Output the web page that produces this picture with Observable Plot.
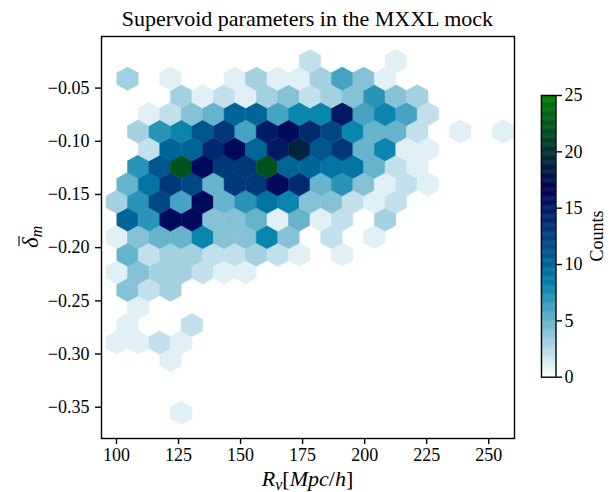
<!DOCTYPE html>
<html><head><meta charset="utf-8">
<script src="https://cdn.jsdelivr.net/npm/d3@7"></script>
<script src="https://cdn.jsdelivr.net/npm/@observablehq/plot@0.6"></script>
<style>
html,body{margin:0;padding:0;background:#fff;}
#wrap{position:relative;width:612px;height:492px;overflow:hidden;}
#wrap svg{position:absolute;top:0;}
</style></head><body><div id="wrap"></div>
<script>
// hexbin cell centres (data units)
const xEven = [100.11,108.76,117.41,126.06,134.71,143.36,152.01,160.66,169.31,177.96,186.61,195.26,203.91,212.56,221.21,229.86,238.51,247.16,255.81];
const xOdd  = [95.79,104.44,113.09,121.74,130.39,139.04,147.69,156.34,164.99,173.64,182.29,190.94,199.59,208.24,216.89,225.54,234.19,242.84,251.49];
const rowY  = [-0.3553,-0.3388,-0.3222,-0.3057,-0.2892,-0.2727,-0.2561,-0.2396,-0.2231,-0.2065,-0.1900,-0.1735,-0.1569,-0.1404,-0.1239,-0.1074,-0.0908,-0.0743,-0.0578,-0.0412,-0.0247];
// counts per hex row (row 0 = bottom); even rows use xEven, odd rows xOdd
const counts = [
 [0,0,0,1,0,0,0,0,0,0,0,0,0,0,0,0,0,0,0],
 [0,0,0,0,0,0,0,0,0,0,0,0,0,0,0,0,0,0,0],
 [0,0,0,0,0,0,0,0,0,0,0,0,0,0,0,0,0,0,0],
 [0,0,0,1,0,0,0,0,0,0,0,0,0,0,0,0,0,0,0],
 [1,1,2,1,0,0,0,0,0,0,0,0,0,0,0,0,0,0,0],
 [0,1,0,0,2,0,0,0,0,0,0,0,0,0,0,0,0,0,0],
 [0,1,0,0,0,0,0,0,0,0,0,0,0,0,0,0,0,0,0],
 [0,4,2,3,0,0,0,0,0,0,0,0,0,0,0,0,0,0,0],
 [1,4,3,3,2,1,1,0,0,0,0,0,0,0,0,0,0,0,0],
 [0,5,2,3,3,2,2,3,2,1,0,1,0,0,0,0,0,0,0],
 [1,4,5,5,8,4,4,8,4,0,2,0,1,0,0,0,0,0,0],
 [0,10,7,16,16,4,4,5,1,5,1,2,0,3,0,0,0,0,0],
 [3,7,12,6,16,5,7,9,8,4,4,2,1,2,0,0,0,0,0],
 [0,5,9,13,12,5,13,13,16,14,5,7,4,1,2,1,0,0,0],
 [0,7,11,22,16,13,13,22,10,10,9,9,5,2,1,0,0,0,0],
 [0,0,2,10,10,14,16,10,15,19,11,13,5,8,1,1,0,0,0],
 [0,3,7,8,11,13,6,15,16,14,12,8,5,5,2,0,1,0,1],
 [0,0,1,2,4,5,10,10,6,8,8,15,6,8,6,2,0,0,0],
 [0,0,0,3,1,2,1,3,4,2,3,4,7,4,3,0,0,0,0],
 [0,3,0,1,0,0,1,3,1,1,3,6,4,1,0,0,0,0,0],
 [0,0,0,0,0,0,0,0,0,2,0,0,0,1,0,0,0,0,0]
];
const binWidthX = 8.65;      // hex width in data x
const rowStepY = 0.01653;    // hex row spacing in data y
const xTicks = [100,125,150,175,200,225,250];
const yTicks = [-0.35,-0.30,-0.25,-0.20,-0.15,-0.10,-0.05];
const cbTicks = [0,5,10,15,20,25];
const titleText = "Supervoid parameters in the MXXL mock";

const cells = [];
counts.forEach((row, k) => {
  const xs = k % 2 === 0 ? xEven : xOdd;
  row.forEach((c, j) => { if (c > 0) cells.push({x: xs[j], y: rowY[k], count: c}); });
});

// matplotlib "ocean_r"
function oceanR(t) {
  const x = 1 - t, cl = v => Math.max(0, Math.min(1, v));
  const r = cl(3 * x - 2), g = cl(Math.abs((3 * x - 1) / 2)), b = cl(x);
  return `rgb(${Math.round(r*255)},${Math.round(g*255)},${Math.round(b*255)})`;
}
const colorOpts = {type: "linear", domain: [0, 25], interpolate: oceanR};

const W = 612, H = 492, ML = 101, MR = 98, MT = 36, MB = 54;
const xDom = [93.95, 260.4], yDom = [-0.3794, -0.0015];
const pxX = (W - ML - MR) / (xDom[1] - xDom[0]);
const pxY = (H - MT - MB) / (yDom[1] - yDom[0]);
const rx = binWidthX * pxX / 2;
const ry = (2 * rowStepY / 3) * pxY;
const aspect = ry / rx;
const hexSymbol = {
  draw(ctx, size) {
    const a = Math.sqrt(size / Math.PI), b = a * aspect;
    ctx.moveTo(0, -b); ctx.lineTo(a, -b / 2); ctx.lineTo(a, b / 2);
    ctx.lineTo(0, b); ctx.lineTo(-a, b / 2); ctx.lineTo(-a, -b / 2); ctx.closePath();
  }
};
const font = "'Liberation Serif', 'Times New Roman', serif";

const main = Plot.plot({
  width: W, height: H, marginLeft: ML, marginRight: MR, marginTop: MT, marginBottom: MB,
  style: {fontFamily: font, fontSize: "18px", background: "white", color: "black"},
  x: {domain: xDom}, y: {domain: yDom},
  color: colorOpts,
  marks: [
    Plot.dot(cells, {x: "x", y: "y", r: rx, symbol: hexSymbol, fill: "count", stroke: "count", strokeWidth: 0.5}),
    Plot.frame({stroke: "black", strokeWidth: 1.4}),
    Plot.axisX({ticks: xTicks, tickSize: 6, tickPadding: 4, strokeWidth: 1.4, label: null, tickFormat: d => String(d)}),
    Plot.axisY({ticks: yTicks, tickSize: 6, tickPadding: 6, strokeWidth: 1.4, label: null, tickFormat: d => d.toFixed(2).replace("-", "\u2212")})
  ]
});
document.getElementById("wrap").appendChild(main);
const ms = d3.select(main);
ms.append("text").attr("x", (ML + W - MR) / 2).attr("y", 25.5).attr("text-anchor", "middle")
  .attr("font-size", 22).attr("font-family", font).attr("fill", "black").text(titleText);
const xl = ms.append("text").attr("x", (ML + W - MR) / 2).attr("y", 486).attr("text-anchor", "middle")
  .attr("font-size", 22).attr("font-family", font).attr("fill", "black");
xl.append("tspan").attr("font-style", "italic").text("R");
xl.append("tspan").attr("font-style", "italic").attr("font-size", 16).attr("dy", 4).text("v");
xl.append("tspan").attr("dy", -4).text("[");
xl.append("tspan").attr("font-style", "italic").text("Mpc");
xl.append("tspan").text("/");
xl.append("tspan").attr("font-style", "italic").text("h");
xl.append("tspan").text("]");
// y label: bar-delta with subscript m
const yg = ms.append("g").attr("transform", `translate(38,${(MT + H - MB) / 2}) rotate(-90)`);
const yl = yg.append("text").attr("x", -11).attr("text-anchor", "start").attr("font-size", 23)
  .attr("font-family", font).attr("fill", "black");
yl.append("tspan").attr("font-style", "italic").text("\u03b4");
yl.append("tspan").attr("font-style", "italic").attr("font-size", 16).attr("dy", 4).text("m");
yg.append("line").attr("x1", -9).attr("x2", 1).attr("y1", -19).attr("y2", -19)
  .attr("stroke", "black").attr("stroke-width", 1.1);

// colour bar
const cbSteps = d3.range(0, 25, 0.1);
const cb = Plot.plot({
  width: 92, height: H, marginLeft: 21, marginRight: 56.5, marginTop: 95, marginBottom: 115.3,
  style: {fontFamily: font, fontSize: "18px", background: "transparent", color: "black"},
  x: {domain: [0, 1], axis: null}, y: {domain: [0, 25]},
  color: colorOpts,
  marks: [
    Plot.rect(cbSteps, {x1: 0, x2: 1, y1: d => d, y2: d => Math.min(25, d + 0.12), fill: d => d + 0.05, stroke: d => d + 0.05, strokeWidth: 0.3}),
    Plot.frame({stroke: "black", strokeWidth: 1.4}),
    Plot.axisY({anchor: "right", ticks: cbTicks, tickSize: 5.5, tickPadding: 3, strokeWidth: 1.4, label: null})
  ]
});
cb.style.left = "520px";
document.getElementById("wrap").appendChild(cb);
d3.select(cb).append("text").attr("transform", `translate(83,236) rotate(-90)`).attr("text-anchor", "middle")
  .attr("font-size", 18).attr("font-family", font).attr("fill", "black").text("Counts");
</script></body></html>
